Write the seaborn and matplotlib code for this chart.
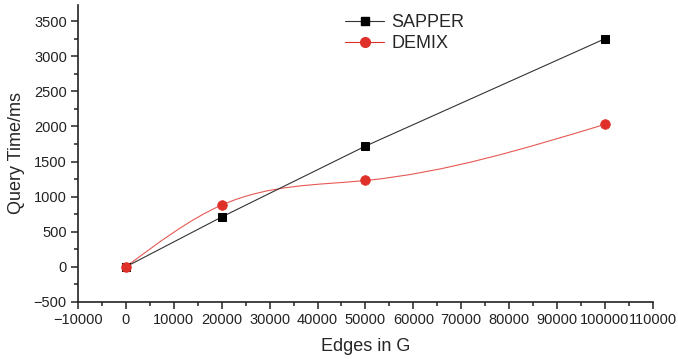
import numpy as np
import pandas as pd
import seaborn as sns
import matplotlib
matplotlib.use("Agg")
from matplotlib import pyplot as plt
from matplotlib.lines import Line2D
from matplotlib.path import Path as MplPath
from matplotlib.patches import PathPatch
from matplotlib.ticker import MultipleLocator, AutoMinorLocator

edges = [0, 20000, 50000, 100000]
sapper_ms = [0, 710, 1720, 3250]
demix_ms = [0, 880, 1230, 2030]

RED = "#e0302a"


def spline_path(xs, ys):
    # natural cubic spline through the points, written as bezier segments
    x = np.asarray(xs, float)
    y = np.asarray(ys, float)
    n = len(x)
    h = np.diff(x)
    A = np.zeros((n, n))
    b = np.zeros(n)
    A[0, 0] = A[-1, -1] = 1
    for i in range(1, n - 1):
        A[i, i - 1] = h[i - 1]
        A[i, i] = 2 * (h[i - 1] + h[i])
        A[i, i + 1] = h[i]
        b[i] = 6 * ((y[i + 1] - y[i]) / h[i] - (y[i] - y[i - 1]) / h[i - 1])
    M = np.linalg.solve(A, b)
    slope_l = (y[1:] - y[:-1]) / h - h * (2 * M[:-1] + M[1:]) / 6
    slope_r = (y[1:] - y[:-1]) / h + h * (M[:-1] + 2 * M[1:]) / 6
    verts = [(x[0], y[0])]
    codes = [MplPath.MOVETO]
    for i in range(n - 1):
        verts += [(x[i] + h[i] / 3, y[i] + slope_l[i] * h[i] / 3),
                  (x[i + 1] - h[i] / 3, y[i + 1] - slope_r[i] * h[i] / 3),
                  (x[i + 1], y[i + 1])]
        codes += [MplPath.CURVE4] * 3
    return MplPath(verts, codes)


sns.set_theme(style="ticks")
plt.rcParams["font.family"] = ["Liberation Sans", "DejaVu Sans"]

df = pd.DataFrame({"edges": edges, "SAPPER": sapper_ms, "DEMIX": demix_ms})

fig = plt.figure(figsize=(6.78, 3.59), dpi=100)
ax = fig.add_axes([0.115, 0.159, 0.848, 0.827])

sns.lineplot(data=df, x="edges", y="SAPPER", ax=ax, color="#333333", lw=0.8,
             marker="s", markersize=6, markerfacecolor="black",
             markeredgecolor="black")
ax.add_patch(PathPatch(spline_path(edges, demix_ms), fill=False,
                       edgecolor=RED, lw=0.8, alpha=0.8))
sns.scatterplot(data=df, x="edges", y="DEMIX", ax=ax, color=RED, s=48,
                edgecolor=RED, zorder=3)

ax.set_xlim(-10000, 110000)
ax.set_ylim(-500, 3730)
ax.xaxis.set_major_locator(MultipleLocator(10000))
ax.yaxis.set_major_locator(MultipleLocator(500))
ax.xaxis.set_minor_locator(AutoMinorLocator(2))
ax.yaxis.set_minor_locator(AutoMinorLocator(2))
ax.tick_params(which="major", length=5, width=1.1, labelsize=10.5, pad=3,
               colors="#222222")
ax.tick_params(which="minor", length=3, width=1.1, colors="#222222")
for s in ("left", "bottom"):
    ax.spines[s].set_linewidth(1.2)
    ax.spines[s].set_color("#222222")
sns.despine(ax=ax)

ax.set_xlabel("Edges in G", fontsize=13, labelpad=8)
ax.set_ylabel("Query Time/ms", fontsize=13, labelpad=6)

handles = [
    Line2D([], [], color="#333333", lw=0.8, marker="s", markersize=6,
           markerfacecolor="black", markeredgecolor="black"),
    Line2D([], [], color=RED, lw=0.8, marker="o", markersize=7,
           markerfacecolor=RED, markeredgecolor=RED),
]
ax.legend(handles, ["SAPPER", "DEMIX"], frameon=False, fontsize=13,
          loc="upper left", bbox_to_anchor=(0.445, 1.005), handlelength=2.2,
          handletextpad=0.4, labelspacing=0.2, borderaxespad=0.2)

fig.savefig("out.png", dpi=100)
